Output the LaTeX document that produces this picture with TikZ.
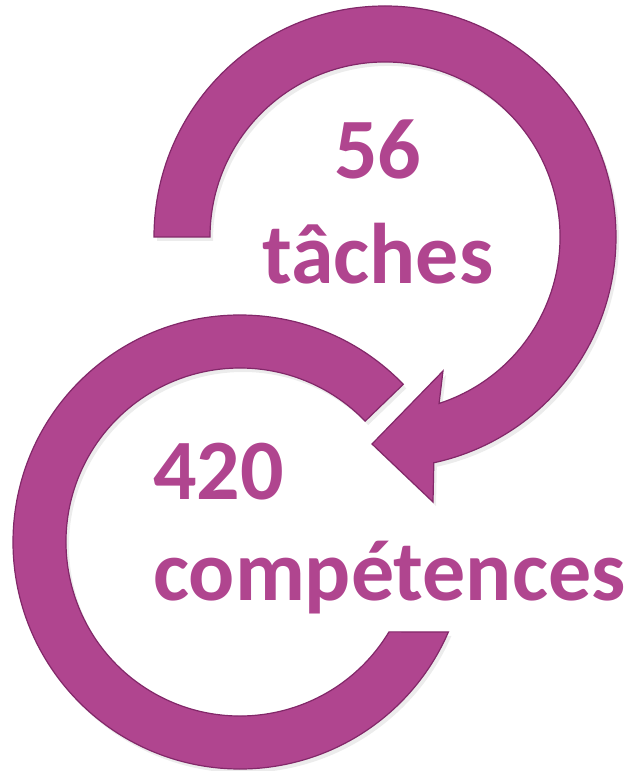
\documentclass[tikz,border=0pt]{standalone}
\usepackage{fontspec}
\setmainfont{Carlito}
\usetikzlibrary{shadows}
\definecolor{ringpurple}{RGB}{176,69,143}
\definecolor{ringedge}{RGB}{130,40,105}

\begin{document}
\begin{tikzpicture}[x=1pt, y=1pt, every node/.style={font=\fontsize{86}{86}\selectfont\bfseries, text=ringpurple, inner sep=0pt, anchor=base west}]
    \useasboundingbox (0,0) rectangle (631,771);

    % Top ring, ends in the arrow head
    \fill[ringpurple, draw=ringedge, line width=1.2pt, drop shadow={opacity=0.15, shadow xshift=3pt, shadow yshift=-4pt}]
        ([shift={(385,534)}]180:231) arc[start angle=180, end angle=-77.8, radius=231]
        -- (433,269) -- (372,327) -- (443,400)
        -- ([shift={(385,534)}]-72:175) arc[start angle=-72, end angle=180, radius=175] -- cycle;

    % Bottom ring, cut flat under the text
    \fill[ringpurple, draw=ringedge, line width=1.2pt, drop shadow={opacity=0.15, shadow xshift=3pt, shadow yshift=-4pt}]
        ([shift={(240,229)}]44:227) arc[start angle=44, end angle=336.64, radius=227]
        -- ([shift={(240,229)}]328.9:174) arc[start angle=328.9, end angle=44, radius=174] -- cycle;

    % Labels
    \node (num56) at (334,592) {56};
    \node (taches) at (262,487) {tâches};
    \node (num420) at (153,271) {420};
    \node (competences) at (153,170) {compétences};
\end{tikzpicture}
\end{document}
